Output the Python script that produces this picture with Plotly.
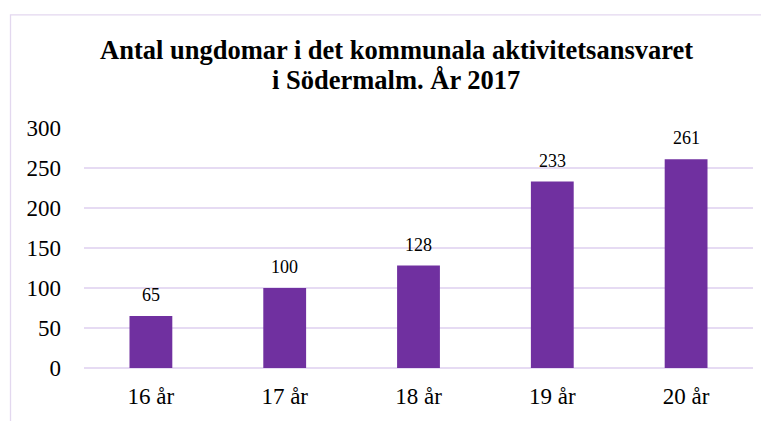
import plotly.graph_objects as go

categories = ["16 år", "17 år", "18 år", "19 år", "20 år"]
values = [65, 100, 128, 233, 261]
y_ticks = [0, 50, 100, 150, 200, 250, 300]

title_lines = ["<b>Antal ungdomar i det kommunala aktivitetsansvaret</b>",
               "<b>i Södermalm. År 2017</b>"]

# page body has an 8px margin, so the figure is sized/positioned to compensate
OFF = 8
W, H = 769 - OFF, 421 - OFF
L, R, T, B = 84 - OFF, 16, 128 - OFF, 50
pw, ph = W - L - R, H - T - B

def px_x(px):
    return (px - OFF - L) / pw

def px_y(py):
    return (H - B - (py - OFF)) / ph

fig = go.Figure()
fig.add_trace(go.Bar(
    x=categories, y=values,
    marker=dict(color="#7030A0", line=dict(width=0)),
    width=0.32,
    hoverinfo="x+y",
))

for c, v in zip(categories, values):
    fig.add_annotation(x=c, y=v, text=str(v), showarrow=False,
                       yanchor="middle", yshift=21,
                       font=dict(family="Liberation Serif", size=18, color="#000000"))

for line, yc in zip(title_lines, [49.5, 79.5]):
    fig.add_annotation(xref="paper", yref="paper", x=px_x(396), y=px_y(yc),
                       xanchor="center", yanchor="middle", showarrow=False,
                       text=line,
                       font=dict(family="Liberation Serif", size=26.5, color="#000000"))

grid = "#E6DBF3"
fig.update_layout(
    width=W, height=H,
    margin=dict(l=L, r=R, t=T, b=B),
    paper_bgcolor="white", plot_bgcolor="white",
    showlegend=False,
    font=dict(family="Liberation Serif", color="#000000"),
    yaxis=dict(range=[0, 300], tickvals=y_ticks, showgrid=True, gridcolor=grid,
               gridwidth=1.5, zeroline=True, zerolinecolor=grid, zerolinewidth=1.5,
               showline=False, ticks="", tickfont=dict(size=23),
               ticklabelstandoff=22),
    xaxis=dict(showgrid=False, showline=False, ticks="", tickfont=dict(size=23),
               ticklabelstandoff=12),
    bargap=0.68,
)

fig.add_shape(type="rect", xref="paper", yref="paper",
              x0=px_x(10.5), x1=px_x(800), y0=px_y(460), y1=px_y(13.5),
              line=dict(color="#E3D8EF", width=1.3), fillcolor="rgba(0,0,0,0)",
              layer="below")

fig.write_html("out.html")
